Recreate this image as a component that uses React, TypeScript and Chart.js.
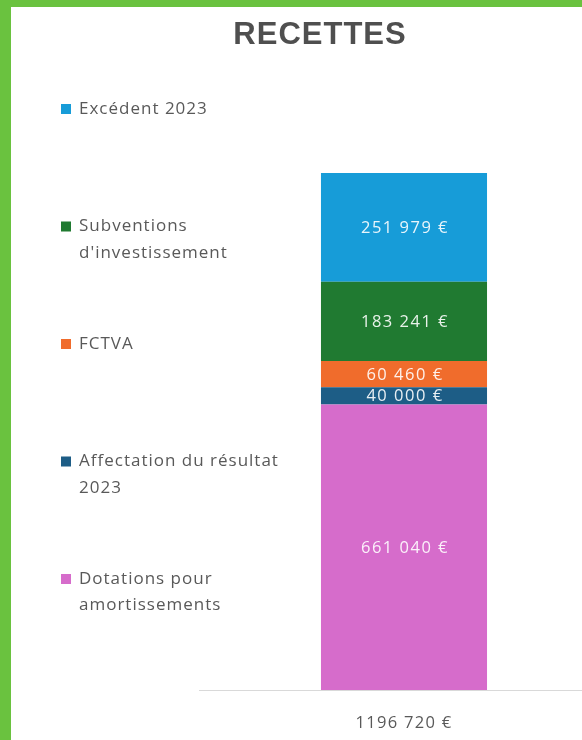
import React, { useEffect, useRef } from "react";
import { Chart, registerables } from "chart.js";
Chart.register(...registerables);

const chartTitle = "RECETTES";
const categories = ["1196 720 €"];
const seriesNames = [
  "Dotations pour amortissements",
  "Affectation du résultat 2023",
  "FCTVA",
  "Subventions d'investissement",
  "Excédent 2023",
];
const dotations = [661040];
const affectation = [40000];
const fctva = [60460];
const subventions = [183241];
const excedent = [251979];
const seriesColors = ["#D66CCB", "#1D5D86", "#F06C2C", "#207A31", "#179CD8"];

const FONT = "'Open Sans', 'Liberation Sans', sans-serif";
const TEXT_GRAY = "#595959";

function fmt(n: number) {
  return String(n).replace(/\B(?=(\d{3})+(?!\d))/g, " ") + " €";
}

function wrap(ctx: CanvasRenderingContext2D, text: string, maxW: number) {
  const words = text.split(" ");
  const lines: string[] = [];
  let cur = "";
  for (const w of words) {
    const t = cur ? cur + " " + w : w;
    if (cur && ctx.measureText(t).width > maxW) {
      lines.push(cur);
      cur = w;
    } else cur = t;
  }
  if (cur) lines.push(cur);
  return lines;
}

const decorPlugin = {
  id: "decor",
  beforeDraw(chart: any) {
    (chart.ctx as any).letterSpacing = "1.3px";
  },
  afterDraw(chart: any) {
    const ctx: any = chart.ctx;
    ctx.save();
    // title
    ctx.letterSpacing = "1px";
    ctx.font = `bold 31px 'Liberation Sans', Arial, sans-serif`;
    ctx.fillStyle = "#4F4F4F";
    ctx.textAlign = "center";
    ctx.textBaseline = "alphabetic";
    ctx.fillText(chartTitle, 309, 37);

    // legend (top = last dataset)
    ctx.letterSpacing = "1px";
    ctx.font = `17px ${FONT}`;
    ctx.textAlign = "left";
    ctx.textBaseline = "middle";
    const ds = chart.data.datasets;
    const top = 102;
    const step = 117.5;
    for (let k = 0; k < ds.length; k++) {
      const d = ds[ds.length - 1 - k];
      const y = top + k * step;
      ctx.fillStyle = d.backgroundColor;
      ctx.fillRect(50, y - 5, 10, 10);
      ctx.fillStyle = TEXT_GRAY;
      const lines = wrap(ctx, d.label, 222);
      lines.forEach((ln: string, i: number) => ctx.fillText(ln, 68, y + i * 26.5));
    }

    // data labels
    ctx.letterSpacing = "1.5px";
    ctx.font = `16.5px ${FONT}`;
    ctx.textAlign = "center";
    ctx.fillStyle = "rgba(255,255,255,0.9)";
    ds.forEach((d: any, di: number) => {
      const meta = chart.getDatasetMeta(di);
      meta.data.forEach((el: any, i: number) => {
        const v = d.data[i];
        const cy = (el.y + el.base) / 2;
        ctx.fillText(fmt(v), el.x + 1, cy + 1);
      });
    });
    ctx.restore();
    ctx.letterSpacing = "0px";
  },
};

export default function App() {
  const ref = useRef<HTMLCanvasElement | null>(null);
  useEffect(() => {
    document.body.style.margin = "0";
    const all = [dotations, affectation, fctva, subventions, excedent];
    const total = all.reduce((s, a) => s + a[0], 0);
    const chart = new Chart(ref.current!, {
      type: "bar",
      data: {
        labels: categories,
        datasets: all.map((arr, i) => ({
          label: seriesNames[i],
          data: arr,
          backgroundColor: seriesColors[i],
          borderWidth: 0,
          categoryPercentage: 1,
          barPercentage: 0.405,
        })),
      },
      options: {
        responsive: false,
        devicePixelRatio: 1,
        animation: false,
        layout: { padding: { top: 166, left: 188, right: 0, bottom: 0 } },
        plugins: {
          legend: { display: false },
          title: { display: false },
          tooltip: { enabled: false },
        },
        scales: {
          x: {
            stacked: true,
            grid: { display: false, drawTicks: false },
            border: { display: true, color: "#D9D9D9", width: 1 },
            ticks: { color: TEXT_GRAY, font: { family: FONT, size: 16.5 }, padding: 23 },
            afterFit: (s: any) => {
              s.height = 50;
            },
          },
          y: { stacked: true, display: false, min: 0, max: total },
        },
      },
      plugins: [decorPlugin],
    });
    return () => chart.destroy();
  }, []);
  return (
    <div style={{ position: "fixed", left: 0, top: 0, width: 582, height: 740, background: "#6AC23F", overflow: "hidden" }}>
      <div style={{ position: "absolute", left: 11, top: 7, width: 571, height: 733, background: "#FFFFFF", overflow: "hidden" }}>
        <canvas ref={ref} width={598} height={733} style={{ display: "block" }} />
      </div>
    </div>
  );
}
